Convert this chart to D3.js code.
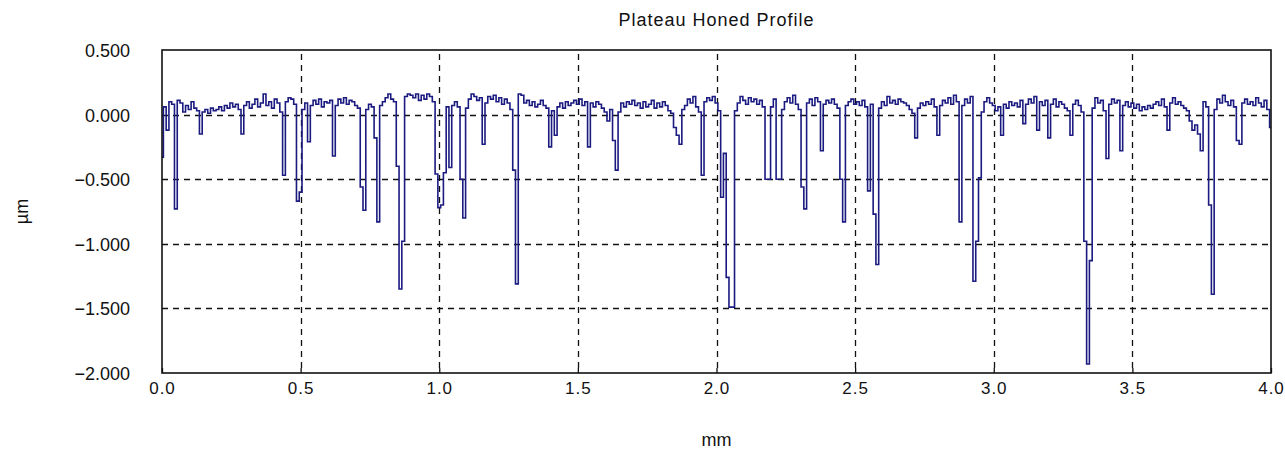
<!DOCTYPE html>
<html>
<head>
<meta charset="utf-8">
<script src="https://cdn.jsdelivr.net/npm/d3@7"></script>
<style>
  html, body { margin: 0; padding: 0; background: #ffffff; }
  svg { display: block; }
  text { font-family: "Liberation Sans", "DejaVu Sans", sans-serif; fill: #111; }
</style>
</head>
<body>
<svg id="chart" width="1285" height="453"></svg>
<script>
// Profile sampling: one height reading every 0.01 mm over 4 mm
const sampleStep = 0.01;

// Surface heights (µm), 401 readings from 0.00 mm to 4.00 mm
const heights = [
  -0.33, 0.06, -0.12, 0.10, 0.08, -0.73, 0.11, 0.09, 0.02, 0.07, 0.04, 0.10, 0.05, 0.03, -0.15, 0.02, 0.04, 0.01, 0.05, 0.03,
  0.04, 0.06, 0.03, 0.07, 0.05, 0.09, 0.06, 0.08, 0.04, -0.15, 0.07, 0.10, 0.05, 0.08, 0.12, 0.06, 0.09, 0.16, 0.07, 0.10,
  0.05, 0.12, 0.09, 0.02, -0.47, 0.10, 0.13, 0.12, 0.08, -0.67, -0.60, 0.04, 0.09, -0.21, 0.07, 0.11, 0.08, 0.12, 0.06, 0.10,
  0.09, 0.11, -0.32, 0.07, 0.12, 0.09, 0.13, 0.08, 0.11, 0.10, 0.07, 0.05, -0.56, -0.74, 0.04, 0.08, 0.06, -0.18, -0.83, 0.07,
  0.10, 0.13, 0.16, 0.12, 0.10, -0.40, -1.35, -0.98, 0.14, 0.16, 0.15, 0.13, 0.16, 0.11, 0.15, 0.12, 0.16, 0.14, 0.10, -0.46,
  -0.72, -0.70, -0.45, 0.06, -0.41, 0.07, 0.10, 0.06, -0.50, -0.80, 0.05, 0.12, 0.16, 0.14, 0.11, 0.13, -0.23, 0.09, 0.14, 0.12,
  0.15, 0.10, 0.13, 0.08, 0.12, 0.09, 0.04, -0.43, -1.31, 0.16, 0.15, 0.09, 0.11, 0.07, 0.10, 0.06, 0.08, 0.11, 0.07, 0.05,
  -0.25, 0.03, -0.16, 0.06, 0.09, 0.05, 0.10, 0.07, 0.09, 0.11, 0.08, 0.12, 0.07, 0.10, -0.25, 0.09, 0.06, 0.10, 0.08, 0.05,
  0.02, -0.05, 0.04, -0.20, -0.43, 0.02, 0.09, 0.06, 0.10, 0.08, 0.11, 0.07, 0.09, 0.05, 0.10, 0.06, 0.08, 0.11, 0.05, 0.09,
  0.06, 0.10, 0.07, 0.03, 0.01, -0.10, -0.16, -0.23, 0.04, 0.07, 0.12, 0.09, 0.14, 0.06, 0.02, -0.47, 0.10, 0.13, 0.11, 0.14,
  0.09, 0.03, -0.64, -0.30, -1.26, -1.49, -1.49, 0.03, 0.09, 0.14, 0.11, 0.08, 0.13, 0.10, 0.12, 0.08, 0.11, 0.06, -0.50, -0.50,
  0.06, 0.12, -0.50, -0.50, 0.04, 0.10, 0.13, 0.09, 0.15, 0.08, 0.04, -0.56, -0.73, 0.09, 0.12, 0.07, 0.13, 0.10, -0.28, 0.08,
  0.11, 0.09, 0.12, 0.08, 0.05, -0.50, -0.83, 0.07, 0.10, 0.12, 0.08, 0.10, 0.07, 0.11, 0.06, -0.59, 0.08, -0.77, -1.16, 0.05,
  0.10, 0.07, 0.14, 0.09, 0.11, 0.08, 0.12, 0.10, 0.09, 0.07, 0.04, 0.01, -0.18, 0.05, 0.09, 0.07, 0.10, 0.08, 0.12, 0.06,
  -0.16, 0.07, 0.11, 0.09, 0.13, 0.08, 0.15, 0.10, -0.83, 0.07, 0.12, 0.09, 0.14, -1.29, -0.98, -0.49, 0.02, 0.10, 0.13, 0.09,
  0.07, 0.03, 0.06, -0.16, 0.08, 0.05, 0.10, 0.07, 0.09, 0.06, 0.11, -0.07, 0.08, 0.12, 0.09, 0.14, -0.12, 0.10, 0.07, 0.11,
  -0.18, 0.08, 0.12, 0.06, 0.10, 0.08, 0.05, 0.03, -0.16, 0.08, 0.11, 0.07, 0.02, -0.98, -1.93, -1.13, 0.05, 0.13, 0.09, 0.11,
  0.03, -0.34, 0.08, 0.12, 0.09, 0.11, -0.28, 0.07, 0.10, 0.06, 0.09, 0.05, 0.08, 0.03, 0.06, 0.04, 0.07, 0.05, 0.08, 0.10,
  0.07, 0.12, 0.06, -0.12, 0.09, 0.13, 0.08, 0.10, 0.07, 0.05, 0.03, -0.05, -0.12, -0.08, -0.15, -0.28, 0.10, 0.06, -0.70, -1.39,
  0.04, 0.12, 0.09, 0.15, 0.10, 0.07, 0.11, 0.06, -0.20, -0.23, 0.09, 0.12, 0.08, 0.10, 0.07, 0.13, 0.09, 0.06, 0.11, 0.04,
  -0.10
];

// Axis ticks
const xTicks = [0.0, 0.5, 1.0, 1.5, 2.0, 2.5, 3.0, 3.5, 4.0];
const yTicks = [0.5, 0.0, -0.5, -1.0, -1.5, -2.0];

const titleText = "Plateau Honed Profile";
const xLabel = "mm";
const yLabel = "µm";

const svg = d3.select("#chart");
const plot = { left: 162, right: 1271, top: 50, bottom: 373 };

const x = d3.scaleLinear().domain([0, 4]).range([plot.left, plot.right]);
const y = d3.scaleLinear().domain([-2, 0.5]).range([plot.bottom, plot.top]);

const profile = heights.map((h, i) => ({ d: i * sampleStep, h }));

// Dashed grid
const grid = svg.append("g").attr("stroke", "#111").attr("stroke-width", 1.3)
  .attr("stroke-dasharray", "6,5");
grid.selectAll("line.v").data(xTicks.slice(1, -1)).join("line")
  .attr("class", "v")
  .attr("x1", d => Math.round(x(d)) + 0.5).attr("x2", d => Math.round(x(d)) + 0.5)
  .attr("y1", plot.top + 4).attr("y2", plot.bottom);
grid.selectAll("line.h").data(yTicks.slice(1, -1)).join("line")
  .attr("class", "h")
  .attr("x1", plot.left).attr("x2", plot.right)
  .attr("y1", d => Math.round(y(d)) + 0.5).attr("y2", d => Math.round(y(d)) + 0.5);

// Profile trace
const line = d3.line()
  .x(d => x(d.d))
  .y(d => y(d.h))
  .curve(d3.curveStep);

svg.append("path")
  .datum(profile)
  .attr("fill", "none")
  .attr("stroke", "#1a1a80")
  .attr("stroke-width", 1.6)
  .attr("stroke-linejoin", "miter")
  .attr("d", line);

// Frame
svg.append("rect")
  .attr("x", plot.left).attr("y", plot.top)
  .attr("width", plot.right - plot.left).attr("height", plot.bottom - plot.top)
  .attr("fill", "none").attr("stroke", "#111").attr("stroke-width", 1.6);

// Axes
const xAxis = d3.axisBottom(x).tickValues(xTicks).tickFormat(d3.format(".1f"))
  .tickSizeInner(-5).tickSizeOuter(0).tickPadding(9);
const yAxis = d3.axisLeft(y).tickValues(yTicks).tickFormat(d3.format(".3f"))
  .tickSize(0).tickPadding(32);

const gx = svg.append("g").attr("transform", `translate(0,${plot.bottom})`).call(xAxis);
const gy = svg.append("g").attr("transform", `translate(${plot.left},0)`).call(yAxis);
[gx, gy].forEach(g => {
  g.select(".domain").remove();
  g.selectAll("text").attr("fill", "#111")
    .attr("font-family", "'Liberation Sans', 'DejaVu Sans', sans-serif");
  g.selectAll("line").attr("stroke", "#111").attr("stroke-width", 1.3);
});
gy.selectAll("text").attr("font-size", 18).attr("dy", "0.36em");
gx.selectAll("text").attr("font-size", 17).attr("letter-spacing", 1);

// Titles
svg.append("text").attr("x", x(2)).attr("y", 26)
  .attr("text-anchor", "middle").attr("font-size", 18).attr("letter-spacing", 1)
  .text(titleText);
svg.append("text").attr("x", x(2)).attr("y", 446)
  .attr("text-anchor", "middle").attr("font-size", 18).text(xLabel);
svg.append("text")
  .attr("transform", `translate(28,${(plot.top + plot.bottom) / 2}) rotate(-90)`)
  .attr("text-anchor", "middle").attr("font-size", 18).text(yLabel);
</script>
</body>
</html>
